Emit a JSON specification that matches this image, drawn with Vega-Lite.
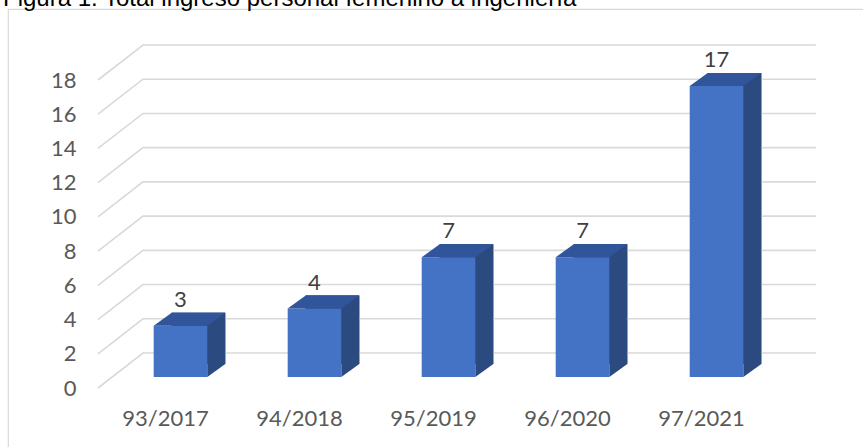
{
  "$schema": "https://vega.github.io/schema/vega-lite/v6.json",
  "width": 857,
  "height": 440,
  "autosize": {"type": "none"},
  "padding": {"left": 8, "top": 9, "right": -2, "bottom": -2},
  "background": "white",
  "config": {
    "view": {"stroke": "#D9D9D9", "strokeWidth": 1.2},
    "axisX": {"grid": false, "domain": false, "ticks": false, "tickSize": 0, "offset": -72, "labelPadding": 31, "labelOffset": -15, "labelAngle": 0, "labelFont": "Lato", "labelFontSize": 22, "labelColor": "#595959", "title": null},
    "axisY": {"grid": false, "domain": false, "ticks": false, "tickSize": 0, "offset": -68, "labelPadding": 0, "labelOffset": 11, "labelFont": "Lato", "labelFontSize": 22, "labelColor": "#595959", "title": null, "values": [0, 2, 4, 6, 8, 10, 12, 14, 16, 18]}
  },
  "title": {
    "text": "Figura 1. Total ingreso personal femenino a ingeniería",
    "anchor": "start",
    "frame": "group",
    "font": "Liberation Sans",
    "fontSize": 24,
    "fontWeight": "normal",
    "color": "#000000",
    "baseline": "alphabetic",
    "offset": -21,
    "dx": -5
  },
  "datasets": {
    "bars": [
      {"periodo": "93/2017", "ingreso": 3},
      {"periodo": "94/2018", "ingreso": 4},
      {"periodo": "95/2019", "ingreso": 7},
      {"periodo": "96/2020", "ingreso": 7},
      {"periodo": "97/2021", "ingreso": 17}
    ],
    "grid": [
      {"g": 0}, {"g": 2}, {"g": 4}, {"g": 6}, {"g": 8},
      {"g": 10}, {"g": 12}, {"g": 14}, {"g": 16}, {"g": 18}
    ]
  },
  "layer": [
    {
      "data": {"name": "bars"},
      "mark": {"type": "bar", "color": "#2B4A80", "xOffset": 18, "yOffset": -13},
      "encoding": {
        "x": {"field": "periodo", "type": "nominal", "sort": null, "title": null,
              "scale": {"type": "band", "range": [104, 777], "paddingInner": 0.6, "paddingOuter": 0.311}},
        "y": {"field": "ingreso", "type": "quantitative", "title": null,
              "scale": {"domain": [0, 18], "range": [368, 60], "nice": false, "zero": true}}
      }
    },
    {
      "data": {"name": "grid"},
      "mark": {"type": "point", "shape": "M-82.5,11 L-37.5,-24 L635.5,-24", "size": 4, "filled": false, "fill": null, "stroke": "#D9D9D9", "strokeWidth": 1.6, "opacity": 1},
      "encoding": {
        "x": {"datum": "93/2017", "type": "nominal", "scale": {"type": "band"}},
        "y": {"field": "g", "type": "quantitative"}
      }
    },
    {
      "data": {"name": "bars"},
      "mark": {"type": "bar", "color": "#2B4A80", "xOffset": 18, "yOffset": -13},
      "encoding": {
        "x": {"field": "periodo", "type": "nominal", "sort": null},
        "y": {"field": "ingreso", "type": "quantitative"}
      }
    },
    {
      "data": {"name": "bars"},
      "mark": {"type": "point", "shape": "M26.8,-13 L44.8,-13 L26.8,0 Z", "size": 4, "filled": true, "color": "#2B4A80", "opacity": 1},
      "encoding": {
        "x": {"field": "periodo", "type": "nominal", "sort": null, "scale": {"type": "band"}},
        "y": {"datum": 0, "type": "quantitative"}
      }
    },
    {
      "data": {"name": "bars"},
      "mark": {"type": "bar", "color": "#4472C4"},
      "encoding": {
        "x": {"field": "periodo", "type": "nominal", "sort": null},
        "y": {"field": "ingreso", "type": "quantitative"}
      }
    },
    {
      "data": {"name": "bars"},
      "mark": {"type": "point", "shape": "M-26.8,0 L26.8,0 L44.8,-13 L-8.8,-13 Z", "size": 4, "filled": true, "color": "#31559A", "opacity": 1},
      "encoding": {
        "x": {"field": "periodo", "type": "nominal", "sort": null, "scale": {"type": "band"}},
        "y": {"field": "ingreso", "type": "quantitative"}
      }
    },
    {
      "data": {"name": "bars"},
      "mark": {"type": "text", "baseline": "middle", "dy": -26, "font": "Lato", "fontSize": 22, "color": "#404040"},
      "encoding": {
        "x": {"field": "periodo", "type": "nominal", "sort": null, "scale": {"type": "band"}},
        "y": {"field": "ingreso", "type": "quantitative"},
        "text": {"field": "ingreso", "type": "quantitative"}
      }
    }
  ]
}
